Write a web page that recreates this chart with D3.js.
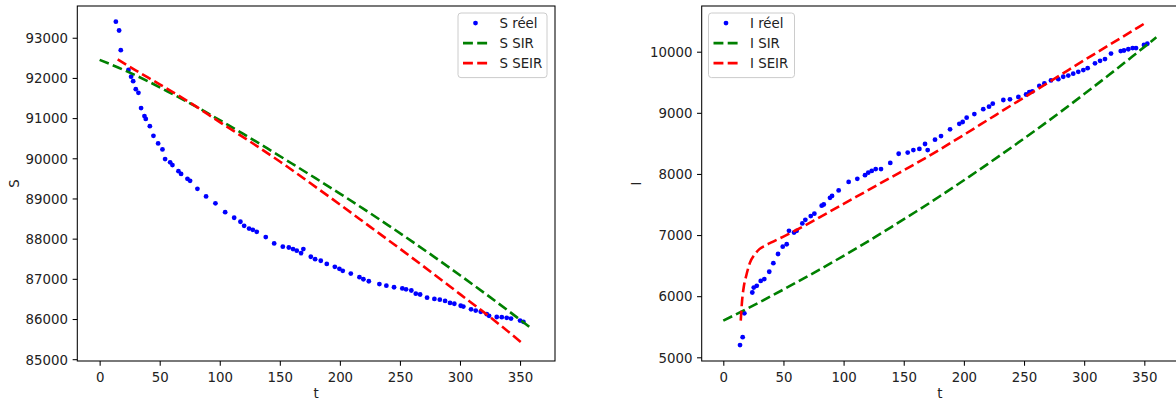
<!DOCTYPE html>
<html>
<head>
<meta charset="utf-8">
<script src="https://cdn.jsdelivr.net/npm/d3@7"></script>
<style>
  html, body { margin: 0; padding: 0; background: #fff; }
  svg { display: block; }
  text { font-family: "DejaVu Sans", sans-serif; font-size: 13.33px; fill: #222; }
</style>
</head>
<body>
<svg id="chart" width="1176" height="404"></svg>
<script>
// Observed susceptible counts (day, value)
const tS = [13.5,16.2,17.6,24,26.2,27.9,30.1,32.3,34.5,37.3,38.4,41.8,44.8,48.7,52.3,54.5,58.7,60.6,65.6,67.8,73.1,75.3,81.4,88.6,96.4,104.5,112,117.2,120.3,124.4,127.5,130.8,138.3,145.3,152.5,157.5,161,164.1,167.7,169.6,175.8,179.4,184.1,189.1,195.8,199.6,202.4,209.1,216.3,219.6,224.1,232.9,238.7,245.1,252,255.1,259.5,263.2,266.8,272.6,278.7,283.2,287.6,291.7,295.3,300.6,302.8,309.2,313.1,317.3,322.3,324.2,330.6,334.8,338.9,342.5,350,352.8];
const sReel = [93400,93180,92690,92200,92030,91920,91720,91630,91250,91050,90980,90800,90560,90370,90220,89980,89900,89830,89680,89610,89490,89440,89240,89050,88880,88660,88520,88420,88320,88250,88220,88170,88040,87880,87800,87780,87740,87700,87640,87740,87550,87490,87450,87370,87300,87250,87200,87130,87040,86990,86940,86870,86830,86790,86760,86740,86710,86630,86610,86530,86500,86480,86450,86400,86380,86330,86310,86240,86210,86180,86120,86080,86050,86045,86030,86010,85960,85930];

// Observed infected counts (day, value)
const tI = [13.9,16.1,17.5,24.1,25.3,27.8,31.1,34.1,38.2,41.6,45.5,49.4,52.7,54.6,58.8,61,65.7,68.2,72.7,75.7,81.8,83.5,88.7,90.4,95.9,104.2,111.4,117.8,120.5,123.4,126.7,131.1,138.8,145.8,153.3,158,163,167.7,169.9,176,181,188.5,196.2,199,202.3,208.7,216.1,220.9,224,232.8,238.3,245.3,251.7,254.4,256.9,262.7,266.9,272.4,278.5,282.6,286.8,290.9,295.1,299.3,302.9,309,313.2,317.3,322.3,330.4,333.1,336.7,340.3,343.1,349.7,352.5];
const iReel = [5200,5330,5720,6060,6140,6170,6250,6280,6400,6540,6690,6810,6850,7070,7040,7070,7190,7250,7310,7350,7480,7500,7610,7640,7730,7870,7920,7980,8020,8050,8080,8080,8180,8330,8350,8390,8410,8490,8390,8560,8620,8730,8820,8850,8920,8980,9060,9100,9150,9210,9220,9260,9300,9340,9350,9440,9480,9530,9550,9590,9610,9640,9670,9700,9730,9810,9850,9880,9970,10010,10020,10040,10060,10060,10110,10130];

// SIR model output
const tSIR = [0,20,40,60,80,100,120,140,160,180,200,220,240,260,280,300,320,340,360];
const sSIR = [92450,92200,91920,91610,91290,90950,90600,90240,89870,89498,89121,88735,88338,87932,87516,87090,86655,86209,85754];
const iSIR = [5600,5798,6004,6216,6435,6661,6894,7135,7381,7635,7897,8165,8440,8721,9010,9307,9610,9920,10236];

// SEIR model output
const tSEIRs = [15,30,50,75,100,125,150,175,200,225,250,275,300,325,353];
const sSEIR = [92460,92190,91840,91390,90900,90420,89920,89390,88850,88300,87750,87190,86620,86050,85370];
const tSEIRi = [14.5,15.5,17,19,22,26,30,35,40,50,60,80,100,120,140,160,180,200,220,240,260,280,300,320,340,352.5];
const iSEIR = [5600,5900,6150,6330,6540,6680,6770,6830,6880,6975,7075,7290,7510,7730,7950,8170,8400,8640,8885,9130,9370,9615,9860,10100,10340,10490];

const xTicks = [0,50,100,150,200,250,300,350];
const sTicks = [85000,86000,87000,88000,89000,90000,91000,92000,93000];
const iTicks = [5000,6000,7000,8000,9000,10000];

const svg = d3.select("#chart");
const BLUE = "#0000ff", GREEN = "#008000", RED = "#ff0000";
const DASH = "9.9,4.3";
const TICK = 4.67, PAD = 4.67;

function panel(cfg) {
  const x = d3.scaleLinear().domain(cfg.xDomain).range([cfg.left, cfg.right]);
  const y = d3.scaleLinear().domain(cfg.yDomain).range([cfg.bottom, cfg.top]);
  const g = svg.append("g");

  const clipId = "clip-" + cfg.id;
  g.append("clipPath").attr("id", clipId)
    .append("rect").attr("x", cfg.left).attr("y", cfg.top)
    .attr("width", cfg.right - cfg.left).attr("height", cfg.bottom - cfg.top);

  const plot = g.append("g").attr("clip-path", `url(#${clipId})`);

  // observed points
  plot.selectAll("circle.obs").data(cfg.obsT.map((t, i) => [t, cfg.obsV[i]]))
    .join("circle").attr("class", "obs")
    .attr("cx", d => x(d[0])).attr("cy", d => y(d[1]))
    .attr("r", 2.4).attr("fill", BLUE);

  const line = d3.line().x(d => x(d[0])).y(d => y(d[1])).curve(d3.curveMonotoneX);

  plot.append("path").datum(cfg.sirT.map((t, i) => [t, cfg.sirV[i]]))
    .attr("d", line).attr("fill", "none").attr("stroke", GREEN)
    .attr("stroke-width", 2.6).attr("stroke-dasharray", DASH);

  plot.append("path").datum(cfg.seirT.map((t, i) => [t, cfg.seirV[i]]))
    .attr("d", line).attr("fill", "none").attr("stroke", RED)
    .attr("stroke-width", 2.6).attr("stroke-dasharray", DASH);

  // frame
  g.append("rect")
    .attr("x", cfg.left).attr("y", cfg.top)
    .attr("width", cfg.right - cfg.left).attr("height", cfg.bottom - cfg.top)
    .attr("fill", "none").attr("stroke", "#000").attr("stroke-width", 1.05);

  // x axis
  const xa = g.append("g").attr("transform", `translate(0,${cfg.bottom})`)
    .call(d3.axisBottom(x).tickValues(xTicks).tickSize(TICK).tickPadding(PAD).tickFormat(d3.format("d")));
  xa.select(".domain").remove();
  xa.selectAll("line").attr("stroke", "#000").attr("stroke-width", 1.05);
  xa.selectAll("text").attr("font-family", null).attr("font-size", null).attr("fill", null)
    .attr("y", 20.5).attr("dy", null);

  // y axis
  const ya = g.append("g").attr("transform", `translate(${cfg.left},0)`)
    .call(d3.axisLeft(y).tickValues(cfg.yTicks).tickSize(TICK).tickPadding(PAD).tickFormat(d3.format("d")));
  ya.select(".domain").remove();
  ya.selectAll("line").attr("stroke", "#000").attr("stroke-width", 1.05);
  ya.selectAll("text").attr("font-family", null).attr("font-size", null).attr("fill", null)
    .attr("dy", "0.36em");

  // axis titles
  g.append("text").attr("x", (cfg.left + Math.min(cfg.right, 1178)) / 2).attr("y", 398)
    .attr("text-anchor", "middle").text("t");
  g.append("text").attr("transform", `translate(${cfg.yLabelX},${(cfg.top + cfg.bottom) / 2}) rotate(-90)`)
    .attr("text-anchor", "middle").text(cfg.yLabel);

  // legend
  const lg = g.append("g").attr("transform", `translate(${cfg.legX},${cfg.legY})`);
  lg.append("rect").attr("x", 0.5).attr("y", 0.5).attr("width", cfg.legW).attr("height", 64.6)
    .attr("rx", 3).attr("fill", "#fff").attr("fill-opacity", 0.8)
    .attr("stroke", "#cccccc").attr("stroke-width", 1);
  const rows = [
    { label: cfg.legLabels[0], kind: "dot" },
    { label: cfg.legLabels[1], kind: "line", color: GREEN },
    { label: cfg.legLabels[2], kind: "line", color: RED }
  ];
  rows.forEach((r, i) => {
    const cy = 10.6 + i * 20;
    if (r.kind === "dot") {
      lg.append("circle").attr("cx", 18).attr("cy", cy).attr("r", 2.4).attr("fill", BLUE);
    } else {
      lg.append("line").attr("x1", 5.5).attr("x2", 29.8).attr("y1", cy).attr("y2", cy)
        .attr("stroke", r.color).attr("stroke-width", 2.6).attr("stroke-dasharray", DASH);
    }
    lg.append("text").attr("x", 42).attr("y", cy).attr("dy", "0.36em").text(r.label);
  });
}

panel({
  id: "s", left: 77.3, right: 555, top: 6, bottom: 361,
  xDomain: [-18.6, 379.1], yDomain: [84955, 93790], yTicks: sTicks,
  obsT: tS, obsV: sReel, sirT: tSIR, sirV: sSIR, seirT: tSEIRs, seirV: sSEIR,
  yLabel: "S", yLabelX: 18.5,
  legX: 457.5, legY: 12.5, legW: 89, legLabels: ["S réel", "S SIR", "S SEIR"]
});

panel({
  id: "i", left: 701.7, right: 1178, top: 6, bottom: 361,
  xDomain: [-17.96, 378], yDomain: [4939.5, 10747.7], yTicks: iTicks,
  obsT: tI, obsV: iReel, sirT: tSIR, sirV: iSIR, seirT: tSEIRi, seirV: iSEIR,
  yLabel: "I", yLabelX: 641,
  legX: 708, legY: 12.5, legW: 86, legLabels: ["I réel", "I SIR", "I SEIR"]
});
</script>
</body>
</html>
